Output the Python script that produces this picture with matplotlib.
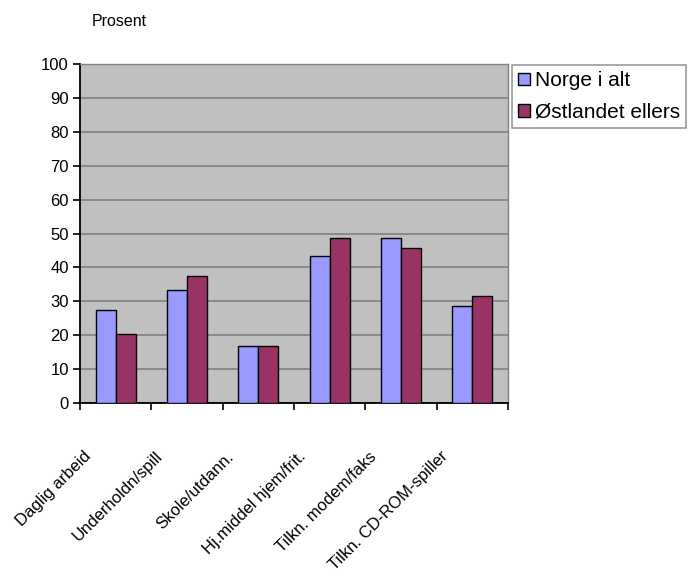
import matplotlib
matplotlib.use("Agg")
import matplotlib.pyplot as plt
import matplotlib.transforms as mtransforms
import numpy as np

# data
kategorier = ['Daglig arbeid', 'Underholdn/spill', 'Skole/utdann.',
              'Hj.middel hjem/frit.', 'Tilkn. modem/faks', 'Tilkn. CD-ROM-spiller']
norge = [27.5, 33.4, 16.8, 43.5, 48.8, 28.7]
ostlandet = [20.4, 37.6, 16.8, 48.8, 45.7, 31.7]
serier = ['Norge i alt', 'Østlandet ellers']

plt.rcParams['font.family'] = ['Liberation Sans', 'DejaVu Sans']

fig = plt.figure(figsize=(6.88, 5.83), dpi=100)
ax = fig.add_axes([80/688, 1 - 403/583, 428/688, 339/583])

x = np.arange(len(kategorier))
width = 0.28
ax.bar(x - width/2, norge, width, color='#9999FF', edgecolor='black', linewidth=1.0,
       label=serier[0], zorder=3)
ax.bar(x + width/2, ostlandet, width, color='#993366', edgecolor='black', linewidth=1.0,
       label=serier[1], zorder=3)

ax.set_facecolor('#C0C0C0')
ax.set_xlim(-0.5, len(kategorier) - 0.5)
ax.set_ylim(0, 100)
ax.set_yticks(np.arange(0, 101, 10))
ax.yaxis.grid(True, color='#808080', linewidth=1.2, zorder=0)
ax.set_axisbelow(True)

for s in ['top', 'right']:
    ax.spines[s].set_color('#808080')
    ax.spines[s].set_linewidth(1.0)
for s in ['left', 'bottom']:
    ax.spines[s].set_color('black')
    ax.spines[s].set_linewidth(1.3)

# tick marks at category boundaries, labels at centers
ax.set_xticks(np.arange(-0.5, len(kategorier), 1.0), minor=True)
ax.tick_params(axis='x', which='minor', direction='out', length=5, width=1.2)
ax.set_xticks(x)
ax.set_xticklabels(kategorier, rotation=45, ha='right', rotation_mode='anchor', fontsize=12)
ax.tick_params(axis='x', which='major', length=0, pad=33)
ax.tick_params(axis='y', direction='out', length=5, width=1.2, labelsize=12, pad=3)

offset = mtransforms.ScaledTranslation(-32/100, 0, fig.dpi_scale_trans)
for lbl in ax.get_xticklabels():
    lbl.set_transform(lbl.get_transform() + offset)

fig.text(92/688, 1 - 22/583, 'Prosent', fontsize=11.5, va='center', ha='left')

leg = ax.legend(loc='upper left', bbox_to_anchor=(512/688, 1 - 65/583),
                bbox_transform=fig.transFigure, fontsize=15, frameon=True,
                fancybox=False, edgecolor='#808080', handlelength=0.55, handleheight=0.55,
                handletextpad=0.25, borderpad=0.3, labelspacing=0.6, borderaxespad=0)
leg.get_frame().set_linewidth(1.2)

fig.savefig('out.png', dpi=100)
